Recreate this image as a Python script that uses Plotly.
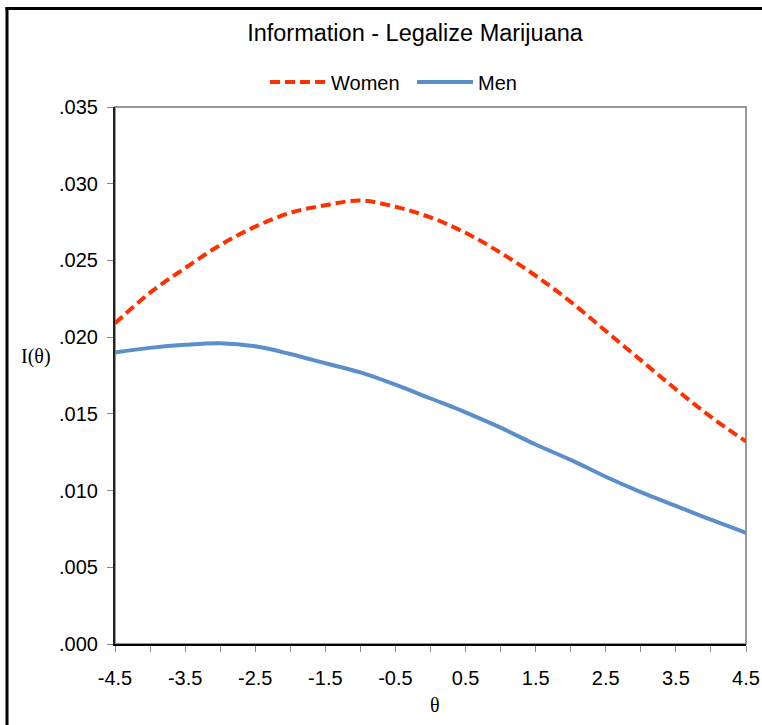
import plotly.graph_objects as go

theta = [-4.5, -4.0, -3.5, -3.0, -2.5, -2.0, -1.5, -1.0, -0.5, 0.0,
         0.5, 1.0, 1.5, 2.0, 2.5, 3.0, 3.5, 4.0, 4.5]
women = [0.0209, 0.0229, 0.0245, 0.0260, 0.0272, 0.0281, 0.0286, 0.0289, 0.0285, 0.0278,
         0.0268, 0.0255, 0.0240, 0.0223, 0.0204, 0.0185, 0.0166, 0.0148, 0.0132]
men = [0.0190, 0.0193, 0.0195, 0.0196, 0.0194, 0.0189, 0.0183, 0.0177, 0.0169, 0.0160,
       0.0151, 0.0141, 0.0130, 0.0120, 0.0109, 0.0099, 0.0090, 0.0081, 0.00725]
x_tickvals = [-4.5, -3.5, -2.5, -1.5, -0.5, 0.5, 1.5, 2.5, 3.5, 4.5]
x_ticktext = ["-4.5", "-3.5", "-2.5", "-1.5", "-0.5", "0.5", "1.5", "2.5", "3.5", "4.5"]
x_minorticks = [-4, -3, -2, -1, 0, 1, 2, 3, 4]
y_tickvals = [0.0, 0.005, 0.010, 0.015, 0.020, 0.025, 0.030, 0.035]
y_ticktext = [".000", ".005", ".010", ".015", ".020", ".025", ".030", ".035"]

FONT = "Liberation Sans, Arial, sans-serif"
SERIF = "Liberation Serif, Times New Roman, serif"

fig = go.Figure()
fig.add_trace(go.Scatter(x=theta, y=women, name="Women", mode="lines",
                         line=dict(color="#FF3000", width=4, dash="10px,5px", shape="spline")))
fig.add_trace(go.Scatter(x=theta, y=men, name="Men", mode="lines",
                         line=dict(color="#5A8FCA", width=4, shape="spline")))

W, H = 762, 725
L, R, T, B = 115, 16, 107, 81
pw, ph = W - L - R, H - T - B

def px_x(p):
    return (p - L) / pw

def px_y(p):
    return (H - B - p) / ph

fig.update_layout(
    width=W, height=H,
    margin=dict(l=L, r=R, t=T, b=B, autoexpand=False),
    paper_bgcolor="white", plot_bgcolor="white",
    font=dict(family=FONT, size=20, color="black"),
    title=dict(text="Information - Legalize Marijuana", x=px_x(415), xref="paper",
               xanchor="center", y=1 - 33 / H, yanchor="middle",
               font=dict(family=FONT, size=23.5, color="black")),
    legend=dict(orientation="h", x=px_x(412), xanchor="center", y=px_y(82), yanchor="middle",
                font=dict(family=FONT, size=20, color="black"), itemwidth=56,
                entrywidth=76, bgcolor="rgba(0,0,0,0)", tracegroupgap=0),
    showlegend=True,
)
fig.update_xaxes(range=[-4.5, 4.5], tickvals=x_tickvals, ticktext=x_ticktext, automargin=False,
                 ticks="outside", ticklen=6, tickcolor="#888", showgrid=False, zeroline=False,
                 showline=True, linecolor="black", linewidth=2, ticklabelstandoff=9,
                 minor=dict(tickvals=x_minorticks, ticks="outside", ticklen=6, tickcolor="#888"),
                 tickfont=dict(family=FONT, size=20, color="black"))
fig.update_yaxes(range=[0, 0.035], tickvals=y_tickvals, ticktext=y_ticktext, automargin=False,
                 ticks="outside", ticklen=6, tickcolor="#888", showgrid=False, zeroline=False,
                 showline=True, linecolor="#222", linewidth=2, ticklabelstandoff=5,
                 tickfont=dict(family=FONT, size=20, color="black"))

# gray plot border (top/right)
fig.add_shape(type="rect", xref="paper", yref="paper", x0=0, x1=1, y0=0, y1=1,
              line=dict(color="#999", width=2), layer="below")
# outer chart frame (only left/top visible)
fig.add_shape(type="line", xref="paper", yref="paper", x0=px_x(5.5), x1=px_x(800),
              y0=px_y(8.5), y1=px_y(8.5), line=dict(color="black", width=3))
fig.add_shape(type="line", xref="paper", yref="paper", x0=px_x(7), x1=px_x(7),
              y0=px_y(7), y1=px_y(800), line=dict(color="black", width=3))

fig.add_annotation(text="I(θ)", xref="paper", yref="paper", x=px_x(36), y=px_y(356),
                   xanchor="center", yanchor="middle",
                   showarrow=False, font=dict(family=SERIF, size=20, color="black"))
fig.add_annotation(text="θ", xref="paper", yref="paper", x=px_x(435), y=px_y(705),
                   xanchor="center", yanchor="middle",
                   showarrow=False, font=dict(family=SERIF, size=20, color="black"))

fig.write_html("out.html", config={"displayModeBar": False},
               post_script="document.body.style.margin='0';")
